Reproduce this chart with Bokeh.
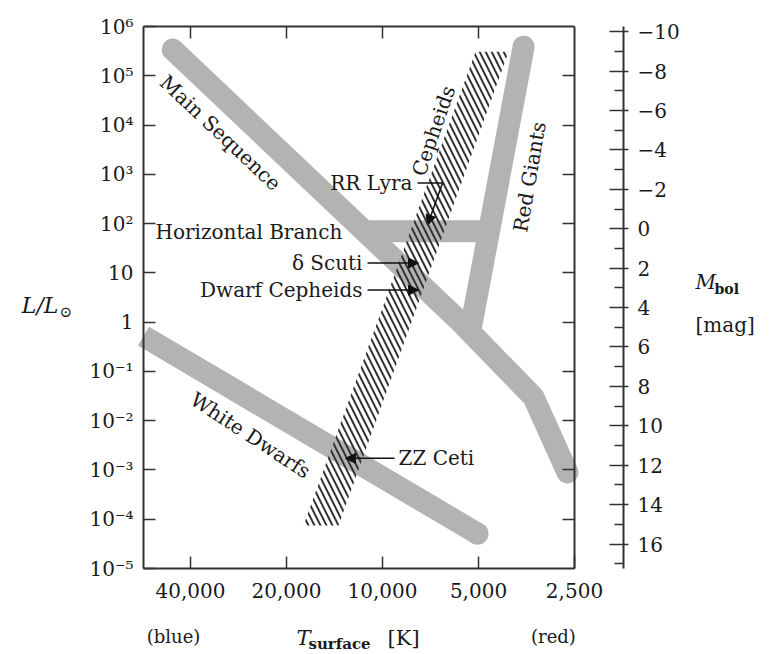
import math
from bokeh.plotting import figure
from bokeh.models import (Range1d, LogAxis, LinearAxis, LinearScale, FixedTicker, CustomJSTickFormatter,
                          Label, Arrow, NormalHead, ColumnDataSource)
from bokeh.embed import file_html
from bokeh.resources import INLINE

# ---------------- data ----------------
t_ticks = [40000, 20000, 10000, 5000, 2500]
t_tick_labels = ["40,000", "20,000", "10,000", "5,000", "2,500"]
l_ticks = [1e-5, 1e-4, 1e-3, 1e-2, 1e-1, 1, 10, 1e2, 1e3, 1e4, 1e5, 1e6]
mag_ticks = list(range(-10, 17, 2))
mag_minor = list(range(-9, 18, 2))
t_box = (56180, 2500)      # temperature limits of the diagram box [K]
l_box = (1e-5, 1e6)        # luminosity limits of the diagram box [L/Lsun]
M_SUN_BOL = 4.74
MAG_AXIS_T = 1755          # where the magnitude scale stands

# Main sequence band (T [K], L/Lsun)
ms_T = [45500, 5690, 3360, 2630]
ms_L = [3.4e5, 1.0, 0.030, 8.9e-4]
# Red giant branch
rg_T = [3610, 5300]
rg_L = [3.9e5, 0.69]
# Horizontal branch
hb_T = [11400, 4650]
hb_L = [70, 70]
# White dwarfs
wd_T = [56180, 5035]
wd_L = [0.52, 5.1e-5]
# Cepheid instability strip
cep_T = [17690, 13740, 4025, 5110]
cep_L = [7.5e-5, 7.5e-5, 3.07e5, 3.07e5]

# region labels
reg_text = ["Main Sequence", "White Dwarfs", "Cepheids", "Red Giants"]
reg_T = [32210, 25940, 6920, 3460]
reg_L = [6940, 5.05e-3, 7620, 885]
reg_angle = [-0.756, -0.581, 1.237, 1.40]

# pointer labels (text anchor), arrows
ptr_text = ["RR Lyra", "\u03b4 Scuti", "Dwarf Cepheids", "ZZ Ceti"]
ptr_T = [8055, 11555, 11555, 8908]
ptr_L = [668, 15.8, 4.47, 1.72e-3]
ptr_align = ["right", "right", "right", "left"]
arr_T0 = [6483, 11143, 11143, 9170]
arr_L0 = [668, 15.8, 4.47, 1.72e-3]
arr_T1 = [7225, 7709, 7709, 13060]
arr_L1 = [93.6, 15.8, 4.47, 1.72e-3]
lead_T = [7768, 6483]
lead_L = [668, 668]

FONT = "DejaVu Serif"
INK = "#1a1a1a"
LINE = "#333333"
GRAY = "#b3b3b3"

# ---------------- view geometry ----------------
W, H = 771, 654
BOX_L, BOX_R, BOX_T, BOX_B = 143, 574, 26, 568   # box edges on the canvas
dx = (math.log10(t_box[1]) - math.log10(t_box[0])) / (BOX_R - BOX_L)
x_start = 10 ** (math.log10(t_box[0]) - BOX_L * dx)
x_end = 10 ** (math.log10(t_box[0]) + (W - BOX_L) * dx)
dy = (math.log10(l_box[0]) - math.log10(l_box[1])) / (BOX_B - BOX_T)
y_top = 10 ** (math.log10(l_box[1]) - BOX_T * dy)
y_bot = 10 ** (math.log10(l_box[1]) + (H - BOX_T) * dy)

p = figure(width=W, height=H, x_axis_type="log", y_axis_type="log",
           x_range=Range1d(x_start, x_end), y_range=Range1d(y_bot, y_top),
           x_axis_location=None, y_axis_location=None,
           output_backend="svg", toolbar_location=None, min_border=0)
p.grid.visible = False
p.background_fill_color = "white"
p.border_fill_color = "white"
p.outline_line_color = None

mag_bot = M_SUN_BOL - 2.5 * math.log10(y_bot)
mag_top = M_SUN_BOL - 2.5 * math.log10(y_top)
p.extra_y_ranges = {"mag": Range1d(mag_bot, mag_top)}
p.extra_y_scales = {"mag": LinearScale()}
mag_lo = M_SUN_BOL - 2.5 * math.log10(l_box[1])
mag_hi = M_SUN_BOL - 2.5 * math.log10(l_box[0])


def style(ax, font_size="20px", standoff=10):
    ax.axis_line_color = LINE
    ax.axis_line_width = 2
    ax.major_tick_in = 12
    ax.major_tick_out = 0
    ax.minor_tick_in = 0
    ax.minor_tick_out = 0
    ax.major_tick_line_color = LINE
    ax.major_tick_line_width = 1.5
    ax.major_label_text_font = FONT
    ax.major_label_text_font_size = font_size
    ax.major_label_text_color = INK
    ax.major_label_standoff = standoff


empty_fmt = CustomJSTickFormatter(code='return "";')

xa = LogAxis(fixed_location=l_box[0], bounds=t_box, ticker=FixedTicker(ticks=t_ticks),
             formatter=CustomJSTickFormatter(args=dict(tv=t_ticks, tl=t_tick_labels), code="""
for (let i = 0; i < tv.length; i++) { if (Math.abs(tv[i] - tick) < 1e-6 * tv[i]) return tl[i]; }
return "";
"""))
style(xa, standoff=14)
p.add_layout(xa, "below")

ya = LogAxis(fixed_location=t_box[0], bounds=l_box, ticker=FixedTicker(ticks=l_ticks),
             formatter=CustomJSTickFormatter(code="""
const e = Math.round(Math.log10(tick));
if (e === 0) return "1";
if (e === 1) return "10";
const sup = {"-": "\\u207b", "0": "\\u2070", "1": "\\u00b9", "2": "\\u00b2", "3": "\\u00b3",
             "4": "\\u2074", "5": "\\u2075", "6": "\\u2076", "7": "\\u2077", "8": "\\u2078", "9": "\\u2079"};
return "10" + String(e).split("").map(c => sup[c]).join("");
"""))
style(ya, standoff=10)
p.add_layout(ya, "left")

top = LogAxis(fixed_location=l_box[1], bounds=t_box, ticker=FixedTicker(ticks=t_ticks[:-1]),
              formatter=empty_fmt)
style(top, font_size="0px", standoff=0)
p.add_layout(top, "above")

rbox = LogAxis(fixed_location=t_box[1], bounds=l_box, ticker=FixedTicker(ticks=l_ticks[1:-1]),
               formatter=empty_fmt)
style(rbox, font_size="0px", standoff=0)
p.add_layout(rbox, "right")

mag = LinearAxis(y_range_name="mag", fixed_location=MAG_AXIS_T, bounds=(mag_lo, mag_hi),
                 ticker=FixedTicker(ticks=mag_ticks, minor_ticks=mag_minor),
                 formatter=CustomJSTickFormatter(code='return tick < 0 ? "\\u2212" + Math.abs(tick) : String(tick);'))
style(mag, standoff=9)
mag.major_tick_in = 14
mag.major_tick_out = 5
mag.minor_tick_in = 9
mag.minor_tick_out = 0
mag.minor_tick_line_color = LINE
mag.minor_tick_line_width = 1.5
p.add_layout(mag, "right")

# ---------------- bands ----------------
p.line(ms_T, ms_L, line_color=GRAY, line_width=22, line_cap="round", line_join="round")
p.line(rg_T, rg_L, line_color=GRAY, line_width=22, line_cap="round", line_join="round")
p.line(hb_T, hb_L, line_color=GRAY, line_width=22, line_cap="butt")
p.line(wd_T, wd_L, line_color=GRAY, line_width=22, line_cap="butt")
p.scatter(wd_T[-1:], wd_L[-1:], marker="circle", size=22, fill_color=GRAY, line_color=None)

# instability strip
p.patch(cep_T, cep_L, fill_color=None, line_color=None,
        hatch_pattern="\\", hatch_color="#333333", hatch_scale=12, hatch_weight=2)

# ---------------- arrows ----------------
p.line(lead_T, lead_L, line_color="#111111", line_width=1.5)
arr_src = ColumnDataSource(dict(x0=arr_T0, y0=arr_L0, x1=arr_T1, y1=arr_L1))
p.add_layout(Arrow(end=NormalHead(size=10, fill_color="#111111", line_color="#111111"),
                   x_start="x0", y_start="y0", x_end="x1", y_end="y1", source=arr_src,
                   line_color="#111111", line_width=1.5))

# ---------------- labels ----------------
for t, T, L, a in zip(reg_text, reg_T, reg_L, reg_angle):
    p.add_layout(Label(x=T, y=L, text=t, angle=a, text_align="center", text_baseline="middle",
                       text_font=FONT, text_font_size="20px", text_color=INK))

p.add_layout(Label(x=51500, y=67.5, text="Horizontal Branch", text_align="left", text_baseline="middle",
                   text_font=FONT, text_font_size="20px", text_color=INK))

for t, T, L, al in zip(ptr_text, ptr_T, ptr_L, ptr_align):
    p.add_layout(Label(x=T, y=L, text=t, text_align=al, text_baseline="middle",
                       text_font=FONT, text_font_size="20px", text_color=INK))

# axis titles
p.add_layout(Label(x=103800, y=2.22, text="L/L", text_align="right", text_baseline="alphabetic",
                   text_font=FONT, text_font_style="italic", text_font_size="22px", text_color=INK))
p.add_layout(Label(x=103000, y=1.596, text="\u2299", text_align="left", text_baseline="alphabetic",
                   text_font=FONT, text_font_size="15px", text_color=INK))

p.add_layout(Label(x=45230, y=4.15e-7, text="(blue)", text_align="center", text_baseline="middle",
                   text_font=FONT, text_font_size="18px", text_color=INK))
p.add_layout(Label(x=2910, y=4.15e-7, text="(red)", text_align="center", text_baseline="middle",
                   text_font=FONT, text_font_size="18px", text_color=INK))
p.add_layout(Label(x=18610, y=3.8e-7, text="T", text_align="left", text_baseline="alphabetic",
                   text_font=FONT, text_font_style="italic", text_font_size="21px", text_color=INK))
p.add_layout(Label(x=17070, y=2.99e-7, text="surface", text_align="left", text_baseline="alphabetic",
                   text_font=FONT, text_font_style="bold", text_font_size="15px", text_color=INK))
p.add_layout(Label(x=9647, y=3.8e-7, text="[K]", text_align="left", text_baseline="alphabetic",
                   text_font=FONT, text_font_size="21px", text_color=INK))

p.add_layout(Label(x=1043, y=6.5, text="M", text_align="left", text_baseline="alphabetic",
                   text_font=FONT, text_font_style="italic", text_font_size="20px", text_color=INK))
p.add_layout(Label(x=909.6, y=4.69, text="bol", text_align="left", text_baseline="alphabetic",
                   text_font=FONT, text_font_style="bold", text_font_size="14px", text_color=INK))
p.add_layout(Label(x=1043, y=0.869, text="[mag]", text_align="left", text_baseline="alphabetic",
                   text_font=FONT, text_font_size="20px", text_color=INK))

open("out.html", "w").write(file_html(p, INLINE))
